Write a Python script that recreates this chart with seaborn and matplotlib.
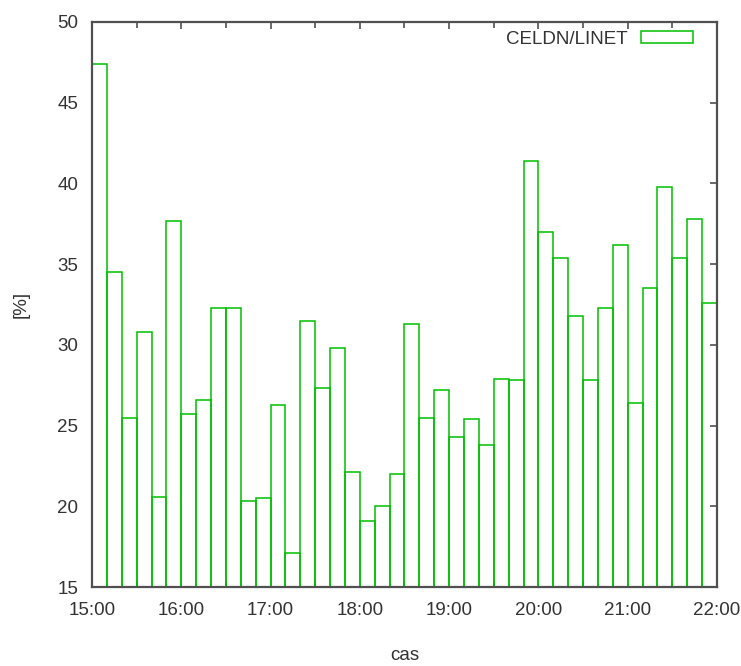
import matplotlib
matplotlib.use("Agg")
import matplotlib.pyplot as plt
from matplotlib.patches import Patch
from matplotlib.ticker import MultipleLocator, FixedLocator
import numpy as np
import pandas as pd
import seaborn as sns

# Share of CELDN strokes relative to LINET, 10-minute slots from 15:00 to 22:00
slot_minutes = 10
start_hour = 15
end_hour = 22
ratio_pct = [
    47.4, 34.5, 25.5, 30.8, 20.6, 37.7,   # 15:00 - 16:00
    25.7, 26.6, 32.3, 32.3, 20.3, 20.5,   # 16:00 - 17:00
    26.3, 17.1, 31.5, 27.3, 29.8, 22.1,   # 17:00 - 18:00
    19.1, 20.0, 22.0, 31.3, 25.5, 27.2,   # 18:00 - 19:00
    24.3, 25.4, 23.8, 27.9, 27.8, 41.4,   # 19:00 - 20:00
    37.0, 35.4, 31.8, 27.8, 32.3, 36.2,   # 20:00 - 21:00
    26.4, 33.5, 39.8, 35.4, 37.8, 32.6,   # 21:00 - 22:00
]
hour_labels = ["15:00", "16:00", "17:00", "18:00", "19:00", "20:00", "21:00", "22:00"]
series_label = "CELDN/LINET"
y_label = "[%]"
x_label = "cas"

n_slots = len(ratio_pct)
slot_h = slot_minutes / 60.0
df = pd.DataFrame({
    "hour": start_hour + (np.arange(n_slots) + 0.5) * slot_h,
    "pct": ratio_pct,
})

sns.set_theme(style="white")
plt.rcParams["font.family"] = ["Liberation Sans", "DejaVu Sans"]

green = "#00c000"
text_col = "#333333"
spine_col = "#505050"
fs = 13.5

fig = plt.figure(figsize=(7.41, 6.66), dpi=100)
ax = fig.add_axes([92 / 741, 1 - 587 / 666, 625 / 741, 565 / 666])

sns.histplot(data=df, x="hour", weights="pct", binwidth=slot_h,
             binrange=(start_hour, end_hour), element="bars",
             fill=False, color=green, linewidth=1.1, ax=ax)

ax.set_xlim(start_hour, end_hour)
ax.set_ylim(15, 50)
ax.yaxis.set_major_locator(MultipleLocator(5))
ax.xaxis.set_major_locator(FixedLocator(range(start_hour, end_hour + 1)))
ax.set_xticklabels(hour_labels)
ax.xaxis.set_minor_locator(MultipleLocator(0.5))

ax.tick_params(axis="both", which="major", direction="in", length=5, width=1.2,
               color=spine_col, labelsize=fs, labelcolor=text_col,
               top=True, right=True)
ax.tick_params(axis="y", which="major", pad=10)
ax.tick_params(axis="x", which="major", pad=11)
ax.tick_params(axis="x", which="minor", direction="in", length=4, width=1.2,
               color=spine_col, top=True, bottom=True)

for s in ax.spines.values():
    s.set_visible(True)
    s.set_color(spine_col)
    s.set_linewidth(1.6)

ax.set_ylabel(y_label, fontsize=fs, color=text_col, labelpad=20)
ax.set_xlabel(x_label, fontsize=fs, color=text_col, labelpad=20)

handle = Patch(facecolor="none", edgecolor=green, linewidth=1.1, label=series_label)
ax.legend(handles=[handle], loc="upper right", bbox_to_anchor=(0.9616, 0.984),
          frameon=False, markerfirst=False, fontsize=fs, handlelength=2.75,
          handleheight=0.6, handletextpad=0.75, borderpad=0, borderaxespad=0,
          labelcolor=text_col)

fig.savefig("out.png", dpi=100, facecolor="white")
